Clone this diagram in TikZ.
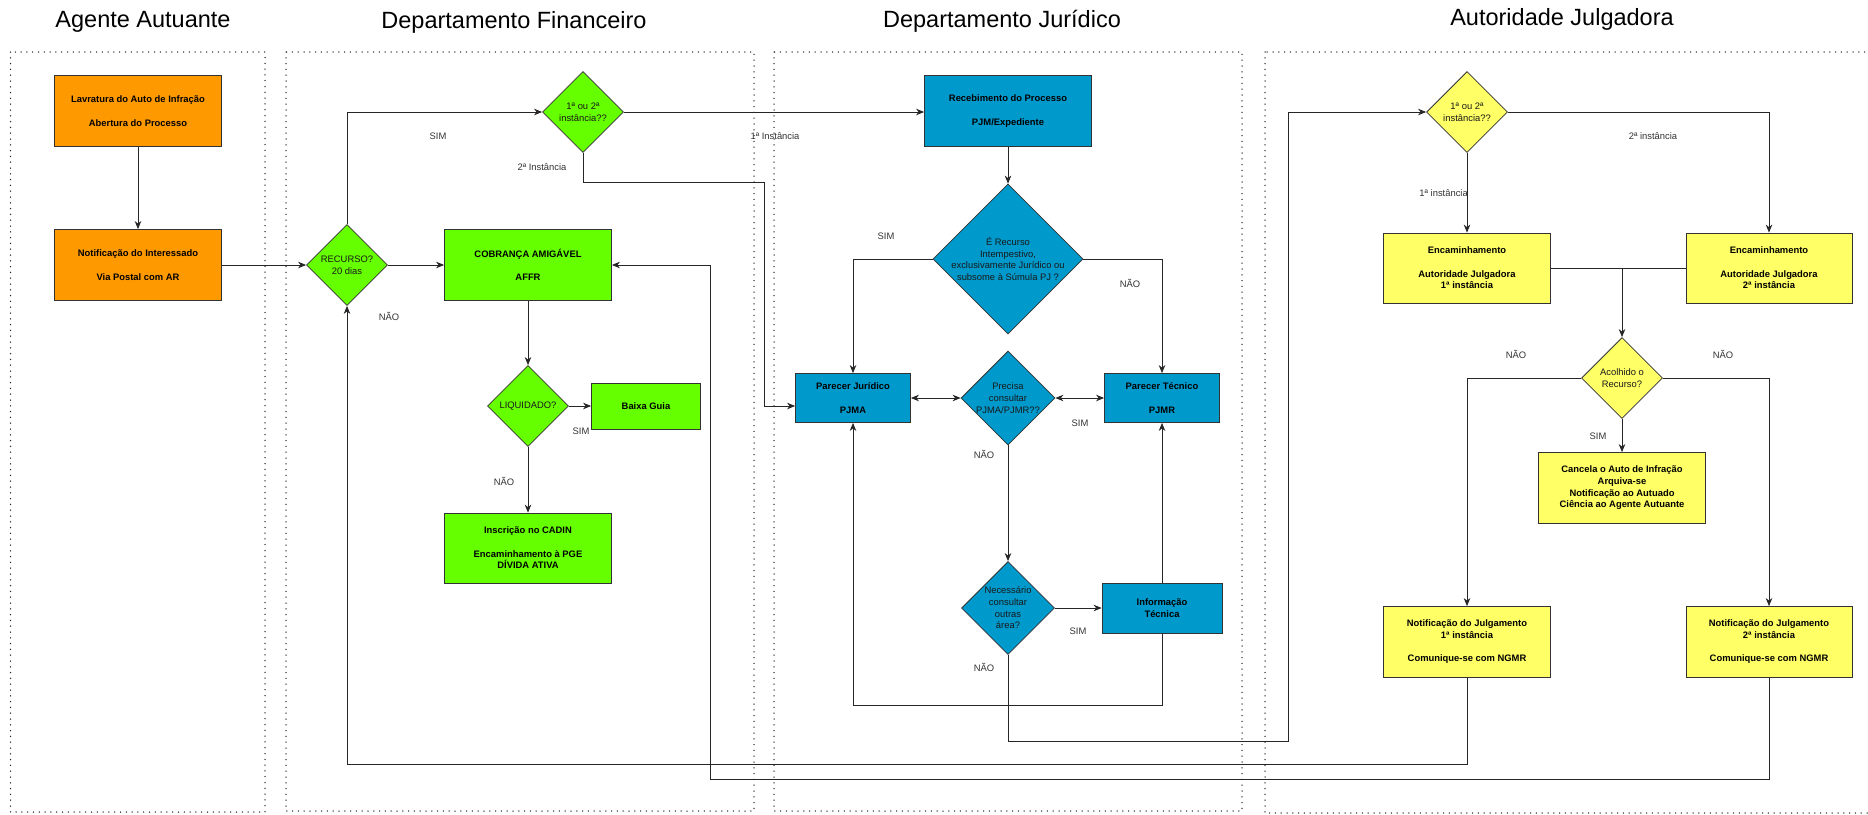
\documentclass[tikz,border=0pt]{standalone}
\usepackage{fontspec}
\setmainfont{Liberation Sans}
\usetikzlibrary{shapes.geometric,arrows.meta}
\definecolor{laranja}{HTML}{FF9900}
\definecolor{verde}{HTML}{66FF00}
\definecolor{azul}{HTML}{0099CC}
\definecolor{amarelo}{HTML}{FFFF66}
\begin{document}
\begin{tikzpicture}[x=1pt,y=-1pt,>={Stealth[length=8pt,width=6.5pt,inset=2.5pt]},
    caixa/.style={draw=black!80,line width=0.8pt,font=\bfseries\fontsize{9.4}{11.7}\selectfont,
        align=center,inner sep=0pt,minimum width=167pt,minimum height=71pt},
    decisao/.style={diamond,draw=black!80,line width=0.8pt,inner sep=0pt,minimum width=#1,minimum height=#1},
    dtexto/.style={font=\fontsize{9.4}{11.7}\selectfont,align=center,text=black!90},
    rotulo/.style={font=\fontsize{9.4}{11.7}\selectfont,text=black!80},
    raia/.style={line width=1.5pt,line cap=round,dash pattern=on 0pt off 5.8pt,draw=black!85},
    titulo/.style={font=\fontsize{23.5}{28}\selectfont},
    seta/.style={->,line width=0.75pt,draw=black!85},
    linha/.style={line width=0.75pt,draw=black!85}]
    \useasboundingbox (0,0) rectangle (1868,814);
    % raias
    \draw[raia] (10.5,52) rectangle (265,812);
    \draw[raia] (286,52) rectangle (754,811);
    \draw[raia] (774,52) rectangle (1242,811);
    \draw[raia] (1265,52) rectangle (1900,813);
    \node[titulo] (tagente) at (143,22) {Agente Autuante};
    \node[titulo] (tfinan) at (514,22) {Departamento Financeiro};
    \node[titulo] (tjurid) at (1002,21) {Departamento Jurídico};
    \node[titulo] (tautor) at (1562,19) {Autoridade Julgadora};
    % agente autuante
    \node[caixa,fill=laranja] (lavratura) at (138,111) {Lavratura do Auto de Infração\\[11.7pt]Abertura do Processo};
    \node[caixa,fill=laranja] (notif) at (138,265) {Notificação do Interessado\\[11.7pt]Via Postal com AR};
    % financeiro
    \node[decisao=81pt,fill=verde,label={[dtexto]center:{RECURSO?\\20 dias}}] (recurso) at (347,265) {};
    \node[caixa,fill=verde] (cobranca) at (528,265) {COBRANÇA AMIGÁVEL\\[11.7pt]AFFR};
    \node[decisao=81pt,fill=verde,label={[dtexto]center:{1ª ou 2ª\\instância??}}] (instfin) at (583,112) {};
    \node[decisao=81pt,fill=verde,label={[dtexto]center:{LIQUIDADO?}}] (liquidado) at (528,406) {};
    \node[caixa,fill=verde,minimum width=109pt,minimum height=46pt] (baixa) at (646,406) {Baixa Guia};
    \node[caixa,fill=verde,minimum height=70pt] (cadin) at (528,548) {Inscrição no CADIN\\[11.7pt]Encaminhamento à PGE\\DÍVIDA ATIVA};
    % juridico
    \node[caixa,fill=azul] (receb) at (1008,111) {Recebimento do Processo\\[11.7pt]PJM/Expediente};
    \node[decisao=150pt,fill=azul,label={[dtexto]center:{É Recurso\\Intempestivo,\\exclusivamente Jurídico ou\\subsome à Súmula PJ ?}}] (tempest) at (1008,259) {};
    \node[caixa,fill=azul,minimum width=115pt,minimum height=49pt] (pjma) at (853,398) {Parecer Jurídico\\[11.7pt]PJMA};
    \node[decisao=94pt,fill=azul,label={[dtexto]center:{Precisa\\consultar\\PJMA/PJMR??}}] (precisa) at (1008,398) {};
    \node[caixa,fill=azul,minimum width=115pt,minimum height=49pt] (pjmr) at (1162,398) {Parecer Técnico\\[11.7pt]PJMR};
    \node[decisao=93pt,fill=azul,label={[dtexto]center:{Necessário\\consultar\\outras\\área?}}] (outras) at (1008,608) {};
    \node[caixa,fill=azul,minimum width=120pt,minimum height=50pt] (infotec) at (1162,608) {Informação\\Técnica};
    % autoridade julgadora
    \node[decisao=81pt,fill=amarelo,label={[dtexto]center:{1ª ou 2ª\\instância??}}] (instaut) at (1467,112) {};
    \node[caixa,fill=amarelo,minimum height=70pt] (encum) at (1467,268) {Encaminhamento\\[11.7pt]Autoridade Julgadora\\1ª instância};
    \node[caixa,fill=amarelo,minimum width=166pt,minimum height=70pt] (encdois) at (1769,268) {Encaminhamento\\[11.7pt]Autoridade Julgadora\\2ª instância};
    \node[decisao=81pt,fill=amarelo,label={[dtexto]center:{Acolhido o\\Recurso?}}] (acolhido) at (1622,378) {};
    \node[caixa,fill=amarelo] (cancela) at (1622,488) {Cancela o Auto de Infração\\Arquiva-se\\Notificação ao Autuado\\Ciência ao Agente Autuante};
    \node[caixa,fill=amarelo] (julgum) at (1467,642) {Notificação do Julgamento\\1ª instância\\[11.7pt]Comunique-se com NGMR};
    \node[caixa,fill=amarelo,minimum width=166pt] (julgdois) at (1769,642) {Notificação do Julgamento\\2ª instância\\[11.7pt]Comunique-se com NGMR};
    % pontos de passagem
    \coordinate (k1) at (764,182);
    \coordinate (k3) at (1288,741);
    \coordinate (k5) at (710,265);
    % conectores
    \draw[seta] (lavratura) -- (notif);
    \draw[seta] (notif) -- (recurso);
    \draw[seta] (recurso) -- (cobranca);
    \draw[seta] (recurso.north) |- (instfin.west);
    \draw[seta] (instfin.east) -- (instfin.east -| receb.west);
    \draw[seta] (instfin.south) |- (k1) |- ([yshift=-8pt]pjma.west);
    \draw[seta] (cobranca) -- (liquidado);
    \draw[seta] (liquidado) -- (baixa);
    \draw[seta] (liquidado) -- (cadin);
    \draw[seta] (receb) -- (tempest);
    \draw[seta] (tempest.west) -| (pjma.north);
    \draw[seta] (tempest.east) -| (pjmr.north);
    \draw[seta,<->] (pjma) -- (precisa);
    \draw[seta,<->] (precisa) -- (pjmr);
    \draw[seta] (precisa) -- (outras);
    \draw[seta] (outras) -- (infotec);
    \draw[seta] (infotec) -- (pjmr);
    \draw[seta] (infotec.south) -- ++(0,72) -| (pjma.south);
    \draw[seta] (outras.south) |- (k3) |- (instaut.west);
    \draw[seta] (instaut) -- (encum);
    \draw[seta] (instaut.east) -| (encdois.north);
    \draw[linha] (encum.east) -- (encdois.west);
    \draw[seta] (acolhido.north |- encum.east) -- (acolhido.north);
    \draw[seta] (acolhido.west) -| (julgum.north);
    \draw[seta] (acolhido.east) -| (julgdois.north);
    \draw[seta] (acolhido) -- (cancela);
    \draw[seta] (julgum.south) -- ++(0,86) -| (recurso.south);
    \draw[seta] (julgdois.south) -- ++(0,101) -| (k5) -- (cobranca.east);
    % rotulos
    \node[rotulo] (simA) at (438,136) {SIM};
    \node[rotulo] (naoA) at (389,316) {NÃO};
    \node[rotulo] (segA) at (542,167) {2ª Instância};
    \node[rotulo] (primA) at (775,136) {1ª Instância};
    \node[rotulo] (simB) at (581,431) {SIM};
    \node[rotulo] (naoB) at (504,481) {NÃO};
    \node[rotulo] (simC) at (886,236) {SIM};
    \node[rotulo] (naoC) at (1130,283) {NÃO};
    \node[rotulo] (simD) at (1080,423) {SIM};
    \node[rotulo] (naoD) at (984,454) {NÃO};
    \node[rotulo] (simE) at (1078,631) {SIM};
    \node[rotulo] (naoE) at (984,667) {NÃO};
    \node[rotulo,anchor=east,inner xsep=0pt] (primB) at (1468,193) {1ª instância};
    \node[rotulo] (segB) at (1653,136) {2ª instância};
    \node[rotulo] (naoF) at (1516,354) {NÃO};
    \node[rotulo] (naoG) at (1723,354) {NÃO};
    \node[rotulo] (simF) at (1598,436) {SIM};
\end{tikzpicture}
\end{document}
